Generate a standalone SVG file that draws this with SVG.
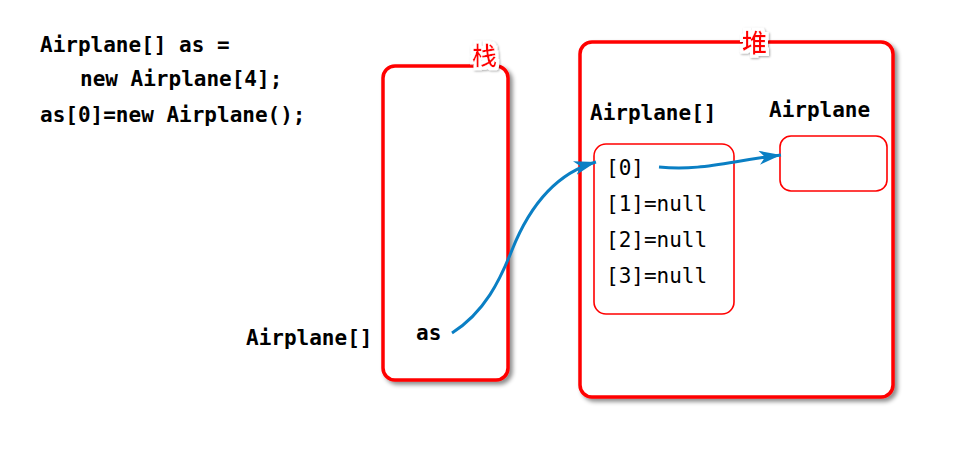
<svg xmlns="http://www.w3.org/2000/svg" width="959" height="475" viewBox="0 0 959 475">
<defs>
<filter id="sh" x="-10%" y="-10%" width="130%" height="130%">
<feDropShadow dx="3" dy="3" stdDeviation="2" flood-color="#000" flood-opacity="0.45"/>
</filter>
<filter id="halo" x="-30%" y="-30%" width="160%" height="160%">
<feMorphology in="SourceAlpha" operator="dilate" radius="2.5" result="d"/>
<feFlood flood-color="#fff"/>
<feComposite in2="d" operator="in" result="w"/>
<feDropShadow in="w" dx="1" dy="1" stdDeviation="1" flood-color="#000" flood-opacity="0.35" result="ws"/>
<feMerge><feMergeNode in="ws"/><feMergeNode in="SourceGraphic"/></feMerge>
</filter>
<marker id="ah" markerUnits="userSpaceOnUse" markerWidth="26" markerHeight="16" refX="22" refY="7" orient="auto">
<path d="M0,0 L22,7 L0,14 L6,7 Z" fill="#0a7fc4"/>
</marker>
</defs>
<style>
.big{fill:#fff;stroke:#ff0000;stroke-width:3.5;filter:url(#sh)}
.small{fill:#fff;stroke:#ff0000;stroke-width:1.6}
.code{font-family:"DejaVu Sans Mono","Liberation Mono",monospace;font-size:21px;fill:#000}
.b{font-weight:bold}
.cn{font-family:"Noto Sans CJK SC",sans-serif;font-size:25px;font-weight:500;fill:#ff0000;filter:url(#halo)}
.conn{fill:none;stroke:#0a7fc4;stroke-width:3;marker-end:url(#ah)}
</style>
<g id="code">
<text class="code b" x="40" y="52">Airplane[] as =</text>
<text class="code b" x="80" y="86">new Airplane[4];</text>
<text class="code b" x="40" y="122">as[0]=new Airplane();</text>
</g>
<g id="stack">
<rect class="big" x="383" y="66" width="125" height="314" rx="12"/>
<text class="cn" x="472" y="65">栈</text>
<text class="code b" x="416" y="340">as</text>
</g>
<g id="stack-label">
<text class="code b" x="246" y="345">Airplane[]</text>
</g>
<g id="heap">
<rect class="big" x="580" y="42" width="313" height="355" rx="12"/>
<text class="cn" x="742" y="52">堆</text>
</g>
<g id="array">
<text class="code b" x="590" y="120">Airplane[]</text>
<rect class="small" x="594" y="144" width="140" height="170" rx="12"/>
<text class="code" x="606" y="175">[0]</text>
<text class="code" x="606" y="211">[1]=null</text>
<text class="code" x="606" y="247">[2]=null</text>
<text class="code" x="606" y="283">[3]=null</text>
</g>
<g id="airplane">
<text class="code b" x="769" y="117">Airplane</text>
<rect class="small" x="780" y="136" width="107" height="55" rx="11"/>
</g>
<g id="connectors">
<path class="conn" d="M452,333 C485,312 500,280 512,250 C532,200 560,172 596,162"/>
<path class="conn" d="M659,167 C700,171 725,162 781,155"/>
</g>
</svg>
